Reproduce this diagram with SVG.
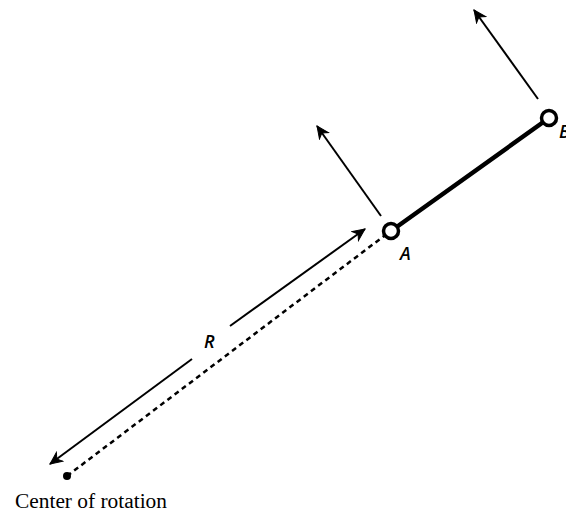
<svg xmlns="http://www.w3.org/2000/svg" width="566" height="516" viewBox="0 0 566 516">
<style>
.arrow{stroke:#000;stroke-width:2;fill:none;marker-end:url(#ah)}
.dash{stroke:#000;stroke-width:2.5;stroke-dasharray:5 4;fill:none}
.bar{stroke:#000;stroke-width:4.5;stroke-linecap:round;fill:none}
.pt{fill:#fff;stroke:#000;stroke-width:3.5}
.lbl{font-family:"Open Sans","Liberation Sans",sans-serif;font-style:italic;font-weight:600;font-size:18px;fill:#000}
.cap{font-family:"Liberation Serif","Times New Roman",serif;font-size:20px;fill:#000}
</style>
<defs>
<marker id="ah" markerUnits="userSpaceOnUse" markerWidth="16" markerHeight="14" viewBox="-13 -7 16 14" refX="0" refY="0" orient="auto">
<path d="M0,0 L-12,-5.5 L-8.5,0 L-12,5.5 Z" fill="#000" stroke="#000" stroke-width="1" stroke-linejoin="miter"/>
</marker>
</defs>
<rect width="566" height="516" fill="#fff"/>
<g id="connectors">
<line class="dash" x1="67" y1="476" x2="384" y2="236"/>
<line class="bar" x1="391" y1="231" x2="549" y2="118"/>
<line class="arrow" x1="381" y1="216" x2="317" y2="126"/>
<line class="arrow" x1="538" y1="99" x2="474" y2="10"/>
<line class="arrow" x1="230" y1="326" x2="365" y2="229"/>
<line class="arrow" x1="192" y1="359" x2="50" y2="464"/>
</g>
<g id="center">
<circle cx="67" cy="476" r="4" fill="#000"/>
<text class="cap" x="15" y="508" textLength="152" lengthAdjust="spacingAndGlyphs">Center of rotation</text>
</g>
<g id="R">
<text class="lbl" x="204" y="348">R</text>
</g>
<g id="A">
<circle class="pt" cx="391" cy="231" r="7.5"/>
<text class="lbl" x="400" y="260">A</text>
</g>
<g id="B">
<circle class="pt" cx="549" cy="118" r="7.5"/>
<text class="lbl" x="559" y="138">B</text>
</g>
</svg>
